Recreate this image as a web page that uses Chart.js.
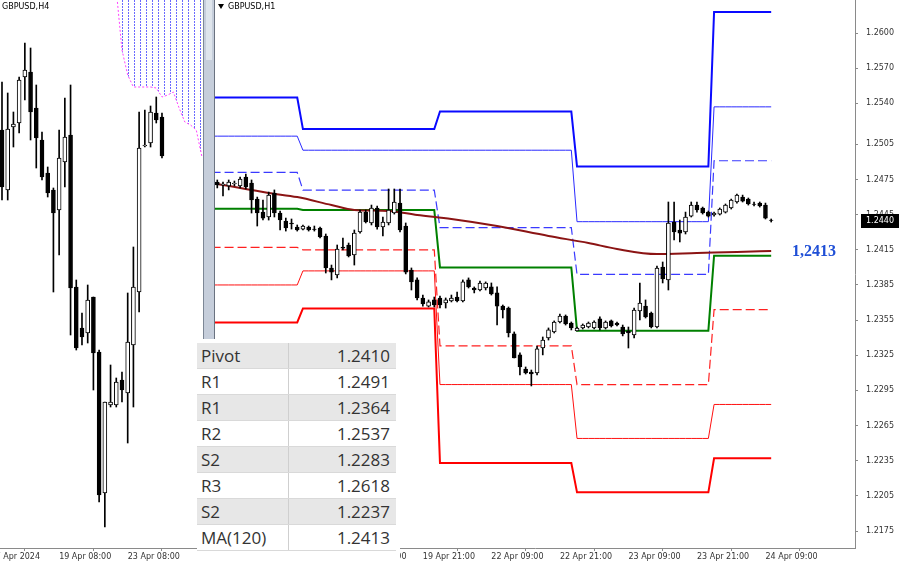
<!DOCTYPE html>
<html><head><meta charset="utf-8">
<script src="https://cdn.jsdelivr.net/npm/chart.js@4.4.1/dist/chart.umd.min.js"></script>
<style>
html,body{margin:0;padding:0;background:#fff;width:900px;height:562px;overflow:hidden;position:relative;}
#h4{position:absolute;left:-40px;top:0;}
#h1{position:absolute;left:215px;top:0;}
.title{position:absolute;font:8px "DejaVu Sans",sans-serif;color:#000;white-space:nowrap;}
#tri{position:absolute;left:218px;top:4px;width:0;height:0;border-left:3px solid transparent;border-right:3px solid transparent;border-top:5px solid #000;}
#divider{position:absolute;left:203px;top:0;width:10px;height:339px;background:#c6cedb;border-left:1px solid #7d8796;border-right:1px solid #6a7280;}
#divider .hl{position:absolute;left:2px;top:0;width:6px;height:60px;background:#dfe5ec;}
#tbl{position:absolute;left:197px;top:339px;width:203px;height:223px;background:#fff;}
#tbl table{position:absolute;left:0;top:4px;width:199px;border-collapse:collapse;font:17px "Open Sans",sans-serif;color:#333;}
#tbl td{height:25px;line-height:25px;padding:0;border-bottom:1px solid #d9d9d9;white-space:nowrap;}
#tbl td.l{width:87px;padding-left:4px;border-right:1px solid #cfcfcf;}
#tbl td.v{text-align:right;padding-right:6px;}
#tbl tr.g td{background:#e7e7e7;}
</style></head>
<body>
<canvas id="h4" width="245" height="562"></canvas>
<canvas id="h1" width="685" height="562"></canvas>
<div class="title" style="left:2px;top:2px;">GBPUSD,H4</div>
<div id="tri"></div>
<div class="title" style="left:228px;top:2px;">GBPUSD,H1</div>
<div id="divider"><div class="hl"></div></div>
<div id="tbl"><table id="t"></table></div>
<script>
// ---------- H1 (right panel) candles: 18 Apr 09:00 .. 24 Apr 10:00 ----------
const h1Open = [1.24729,1.24703,1.24695,1.24712,1.24695,1.24771,1.24720,1.24583,1.24472,1.24430,
1.24635,1.24464,1.24396,1.24379,1.24345,1.24327,1.24345,1.24327,1.24336,1.24268,
1.23995,1.23935,1.24174,1.24191,1.24106,1.24302,1.24472,1.24379,1.24507,1.24345,
1.24379,1.24464,1.24549,1.24353,1.23978,1.23893,1.23739,1.23670,1.23722,1.23739,
1.23696,1.23713,1.23747,1.23713,1.23893,1.23824,1.23807,1.23824,1.23833,1.23782,
1.23670,1.23653,1.23432,1.23253,1.23133,1.23107,1.23099,1.23312,1.23397,1.23449,
1.23534,1.23585,1.23525,1.23457,1.23483,1.23491,1.23483,1.23560,1.23483,1.23543,
1.23525,1.23491,1.23457,1.23423,1.23628,1.23670,1.23611,1.23491,1.24003,1.23893,
1.24387,1.24319,1.24302,1.24438,1.24532,1.24507,1.24472,1.24447,1.24455,1.24472,
1.24507,1.24558,1.24600,1.24583,1.24541,1.24549,1.24532,1.24404];
const h1High = [1.24746,1.24729,1.24746,1.24737,1.24771,1.24797,1.24746,1.24600,1.24575,1.24643,
1.24661,1.24481,1.24421,1.24413,1.24362,1.24362,1.24353,1.24353,1.24345,1.24285,
1.24020,1.24191,1.24251,1.24208,1.24319,1.24490,1.24490,1.24532,1.24524,1.24430,
1.24669,1.24669,1.24669,1.24379,1.23995,1.23910,1.23764,1.23722,1.23747,1.23756,
1.23739,1.23764,1.23790,1.23893,1.23910,1.23833,1.23884,1.23876,1.23867,1.23833,
1.23679,1.23662,1.23449,1.23270,1.23150,1.23124,1.23329,1.23406,1.23483,1.23543,
1.23602,1.23594,1.23534,1.23491,1.23517,1.23534,1.23543,1.23577,1.23543,1.23551,
1.23534,1.23508,1.23491,1.23653,1.23867,1.23722,1.23619,1.24012,1.24046,1.24558,
1.24558,1.24404,1.24472,1.24558,1.24558,1.24515,1.24481,1.24472,1.24507,1.24541,
1.24583,1.24626,1.24617,1.24592,1.24558,1.24558,1.24549,1.24413];
const h1Low = [1.24678,1.24609,1.24661,1.24695,1.24678,1.24669,1.24464,1.24353,1.24404,1.24404,
1.24430,1.24319,1.24310,1.24327,1.24310,1.24319,1.24310,1.24310,1.24251,1.23952,
1.23893,1.23910,1.24148,1.24089,1.24020,1.24293,1.24379,1.24362,1.24327,1.24268,
1.24362,1.24455,1.24302,1.23944,1.23807,1.23722,1.23670,1.23662,1.23662,1.23653,
1.23653,1.23705,1.23705,1.23705,1.23824,1.23782,1.23799,1.23807,1.23764,1.23508,
1.23568,1.23406,1.23227,1.23082,1.23090,1.22988,1.23082,1.23253,1.23380,1.23440,
1.23525,1.23508,1.23466,1.23457,1.23474,1.23483,1.23474,1.23466,1.23474,1.23491,
1.23500,1.23415,1.23312,1.23397,1.23551,1.23568,1.23483,1.23483,1.23867,1.23807,
1.24234,1.24217,1.24285,1.24430,1.24472,1.24455,1.24430,1.24438,1.24447,1.24464,
1.24498,1.24549,1.24558,1.24532,1.24524,1.24515,1.24413,1.24387];
const h1Close = [1.24703,1.24712,1.24729,1.24720,1.24754,1.24686,1.24575,1.24464,1.24421,1.24617,
1.24464,1.24404,1.24336,1.24370,1.24319,1.24353,1.24319,1.24323,1.24259,1.23995,
1.23960,1.24157,1.24165,1.24097,1.24293,1.24472,1.24387,1.24507,1.24345,1.24387,
1.24490,1.24558,1.24319,1.23960,1.23876,1.23739,1.23688,1.23705,1.23679,1.23679,
1.23722,1.23739,1.23713,1.23876,1.23833,1.23807,1.23867,1.23867,1.23773,1.23670,
1.23636,1.23440,1.23227,1.23150,1.23099,1.23090,1.23304,1.23380,1.23466,1.23534,
1.23585,1.23517,1.23483,1.23483,1.23508,1.23525,1.23534,1.23483,1.23534,1.23500,
1.23508,1.23432,1.23440,1.23636,1.23696,1.23577,1.23491,1.23995,1.23901,1.24379,
1.24302,1.24293,1.24430,1.24532,1.24490,1.24464,1.24438,1.24464,1.24498,1.24532,
1.24575,1.24617,1.24566,1.24541,1.24537,1.24524,1.24421,1.24400];

// daily pivot levels (18, 19, 22, 23, 24 Apr); first bar index of each day
const dayStart = [-1, 15, 39, 63, 87];
const r3Levels = [1.2545, 1.2518, 1.2533, 1.2486, 1.2618];
const r2Levels = [1.2512, 1.2500, 1.2500, 1.2439, 1.2537];
const r1Levels = [1.2481, 1.2466, 1.2434, 1.2394, 1.2491];
const pivotLevels = [1.2450, 1.2449, 1.2400, 1.2346, 1.2410];
const s1Levels = [1.2417, 1.2415, 1.2333, 1.2300, 1.2364];
const s2Levels = [1.2385, 1.2397, 1.2300, 1.2254, 1.2283];
const s3Levels = [1.2353, 1.2365, 1.2233, 1.2208, 1.2237];

// MA(120) read at selected bars
const maIdx = [-1, 0, 9, 14, 20, 24, 30, 35, 41, 49, 58, 65, 70, 77, 84, 91, 97];
const maVal = [1.2472, 1.24712, 1.24635, 1.24600, 1.24532, 1.24490, 1.24481, 1.24447, 1.24413, 1.24353, 1.24268, 1.24208, 1.24157, 1.24114, 1.24123, 1.24131, 1.24140];
const maLabelValue = 1.2413;

const h1TickIdx = [0, 12, 24, 36, 48, 60, 72, 84, 96];
const h1TickLabels = ['18 Apr 09:00','18 Apr 21:00','19 Apr 09:00','19 Apr 21:00','22 Apr 09:00','22 Apr 21:00','23 Apr 09:00','23 Apr 21:00','24 Apr 09:00'];
const h1PriceTicks = [1.2175,1.2205,1.2235,1.2265,1.2295,1.2325,1.2355,1.2385,1.2415,1.2445,1.2475,1.2505,1.2540,1.2570,1.2600];

// ---------- H4 (left panel) candles: 17 Apr 16:00 .. 24 Apr 08:00 ----------
const h4Open = [1.2458,1.2434,1.24592,1.24608,1.24792,1.24812,1.24668,1.2454,1.24408,1.2434,1.2426,1.24452,1.2456,1.23952,1.23788,1.23768,1.23912,1.23692,1.23128,1.2348,1.2348,1.2358,1.23528,1.2372,1.23932,1.24516,1.24528,1.24648,1.24632];
const h4High = [1.24772,1.24728,1.24652,1.24792,1.24928,1.24908,1.2476,1.24572,1.24432,1.24348,1.2458,1.24708,1.2476,1.2398,1.23848,1.2396,1.23912,1.237,1.23492,1.2364,1.23588,1.23612,1.23928,1.24112,1.24652,1.2466,1.24676,1.24712,1.24648];
const h4Low = [1.2430,1.2430,1.24512,1.24568,1.2470,1.2454,1.24428,1.2438,1.24312,1.23932,1.2408,1.24352,1.2376,1.237,1.2372,1.23728,1.2354,1.23092,1.22992,1.23472,1.23472,1.23492,1.23328,1.23472,1.23852,1.24512,1.24512,1.24608,1.24468];
const h4Close = [1.24352,1.24584,1.24604,1.2478,1.2482,1.24652,1.24548,1.24392,1.24328,1.24248,1.24468,1.24552,1.23948,1.23708,1.23752,1.239,1.23688,1.2312,1.23492,1.23492,1.23572,1.2354,1.23732,1.23952,1.24508,1.2452,1.24652,1.2462,1.24476];
// Ichimoku cloud lower edge (shifted forward)
const cloudIdx = [20, 21, 22, 23, 24, 25, 26, 27, 28, 29, 30, 31, 32, 33, 34, 35];
const cloudVal = [1.2514, 1.2490, 1.2480, 1.24752, 1.24752, 1.24752, 1.24752, 1.24748, 1.24712, 1.2472, 1.24732, 1.24668, 1.24612, 1.2460, 1.2458, 1.24472];
const h4TickIdx = [-2, 10, 22];
const h4TickLabels = ['17 Apr 2024', '19 Apr 08:00', '23 Apr 08:00'];

// table
const tableLabels = ['Pivot','R1','R1','R2','S2','R3','S2','MA(120)'];
const tableValues = ['1.2410','1.2491','1.2364','1.2537','1.2283','1.2618','1.2237','1.2413'];

// ---------- build ----------
const t = document.getElementById('t');
tableLabels.forEach((lab, i) => {
  const tr = document.createElement('tr');
  if (i % 2 === 0) tr.className = 'g';
  tr.innerHTML = '<td class="l">' + lab + '</td><td class="v">' + tableValues[i] + '</td>';
  t.appendChild(tr);
});

const AXC = '#8a8a8a';
const tickFont = {family: 'DejaVu Sans', size: 8};

function candleSets(o, h, l, c, bodyW) {
  const wick = o.map((_, i) => ({x: i, y: [l[i], h[i]]}));
  const body = o.map((_, i) => ({x: i, y: [Math.min(o[i], c[i]), Math.max(o[i], c[i])]}));
  const fill = o.map((_, i) => c[i] >= o[i] ? '#ffffff' : '#000000');
  return [
    {type: 'bar', data: wick, barThickness: 1, backgroundColor: '#000', borderWidth: 0, grouped: false, order: 2},
    {type: 'bar', data: body, barThickness: bodyW, backgroundColor: fill, borderColor: '#000', borderWidth: 1, borderSkipped: false, grouped: false, order: 1}
  ];
}
function levelSeries(levels) {
  const pts = [];
  for (let i = -1; i < h1Open.length; i++) {
    let d = 0;
    for (let k = 0; k < dayStart.length; k++) if (i >= dayStart[k]) d = k;
    pts.push({x: i, y: levels[d]});
  }
  return pts;
}
function lineDs(levels, color, width, dash) {
  return {type: 'line', data: levelSeries(levels), borderColor: color, borderWidth: width, borderDash: dash || [], pointRadius: 0, tension: 0, fill: false, order: 10};
}
function fixedTicks(idx) { return s => { s.ticks = idx.map(v => ({value: v})); }; }

// ---------- right chart ----------
const lastPrice = h1Close[h1Close.length - 1];
const overlay = {
  id: 'overlay',
  afterDraw(chart) {
    const {ctx} = chart; const y = chart.scales.y;
    ctx.save();
    const py = y.getPixelForValue(lastPrice);
    ctx.fillStyle = '#000';
    ctx.fillRect(y.left + 6, Math.round(py) - 7, 38, 14);
    ctx.fillStyle = '#fff'; ctx.font = '8px "DejaVu Sans"'; ctx.textBaseline = 'middle'; ctx.textAlign = 'left';
    ctx.fillText(lastPrice.toFixed(4), y.left + 11, Math.round(py));
    const my = y.getPixelForValue(maLabelValue);
    ctx.fillStyle = '#1f4fd6'; ctx.font = 'bold 16px "Liberation Serif"';
    ctx.fillText(maLabelValue.toFixed(4).replace('.', ','), 577, my);
    ctx.restore();
  }
};

new Chart(document.getElementById('h1'), {
  type: 'bar',
  data: {datasets: [
    ...candleSets(h1Open, h1High, h1Low, h1Close, 4),
    {type: 'line', data: maIdx.map((x, i) => ({x, y: maVal[i]})), borderColor: '#8b1414', borderWidth: 2, pointRadius: 0, tension: 0.4, cubicInterpolationMode: 'monotone', fill: false, order: 9},
    lineDs(r3Levels, '#0a0aff', 2),
    lineDs(r2Levels, '#2a2aff', 1),
    lineDs(r1Levels, '#3a3aff', 1.2, [9, 4]),
    lineDs(pivotLevels, '#008000', 2),
    lineDs(s1Levels, '#ff2020', 1.2, [9, 4]),
    lineDs(s2Levels, '#ff1010', 1),
    lineDs(s3Levels, '#ff0000', 2)
  ]},
  options: {
    responsive: false, animation: false, maintainAspectRatio: false,
    layout: {padding: 0},
    plugins: {legend: {display: false}, tooltip: {enabled: false}},
    scales: {
      x: {type: 'linear', min: -0.40, max: 111.68, offset: false, bounds: 'data',
        afterBuildTicks: fixedTicks(h1TickIdx),
        afterFit: s => { s.height = 14; s.paddingLeft = 0; s.paddingRight = 0; },
        ticks: {callback: (v, i) => h1TickLabels[i], align: 'start', maxRotation: 0, autoSkip: false, font: tickFont, color: '#333', padding: 1},
        grid: {drawOnChartArea: false, tickLength: 3, color: AXC}, border: {color: AXC}},
      y: {type: 'linear', position: 'right', min: 1.21605, max: 1.26282, bounds: 'data',
        afterBuildTicks: fixedTicks(h1PriceTicks),
        afterFit: s => { s.width = 45; s.paddingTop = 0; s.paddingBottom = 0; },
        ticks: {callback: v => v.toFixed(4), autoSkip: false, font: tickFont, color: '#333', padding: 8},
        grid: {drawOnChartArea: false, tickLength: 3, color: AXC}, border: {color: AXC}}
    }
  },
  plugins: [overlay]
});

// ---------- left chart ----------
const h4Canvas = document.getElementById('h4');
const pc = document.createElement('canvas'); pc.width = 6; pc.height = 3;
const pg = pc.getContext('2d'); pg.fillStyle = '#6a6aff'; pg.fillRect(0, 0, 1, 2);
const hatch = h4Canvas.getContext('2d').createPattern(pc, 'repeat');

new Chart(h4Canvas, {
  type: 'bar',
  data: {datasets: [
    ...candleSets(h4Open, h4High, h4Low, h4Close, 4),
    {type: 'line', data: cloudIdx.map((x, i) => ({x, y: cloudVal[i]})), borderColor: '#ff40ff', borderWidth: 1, borderDash: [2, 2], backgroundColor: hatch, fill: 'end', pointRadius: 0, tension: 0, order: 10}
  ]},
  options: {
    responsive: false, animation: false, maintainAspectRatio: false,
    layout: {padding: 0},
    plugins: {legend: {display: false}, tooltip: {enabled: false}},
    scales: {
      x: {type: 'linear', min: -7.35, max: 35.53, offset: false, bounds: 'data',
        afterBuildTicks: fixedTicks(h4TickIdx),
        afterFit: s => { s.height = 14; s.paddingLeft = 0; s.paddingRight = 0; },
        ticks: {callback: (v, i) => h4TickLabels[i], align: 'start', maxRotation: 0, autoSkip: false, font: tickFont, color: '#333', padding: 1},
        grid: {drawOnChartArea: false, tickLength: 3, color: AXC}, border: {color: AXC}},
      y: {type: 'linear', display: false, min: 1.22908, max: 1.2510, bounds: 'data'}
    }
  }
});
</script>
</body></html>
